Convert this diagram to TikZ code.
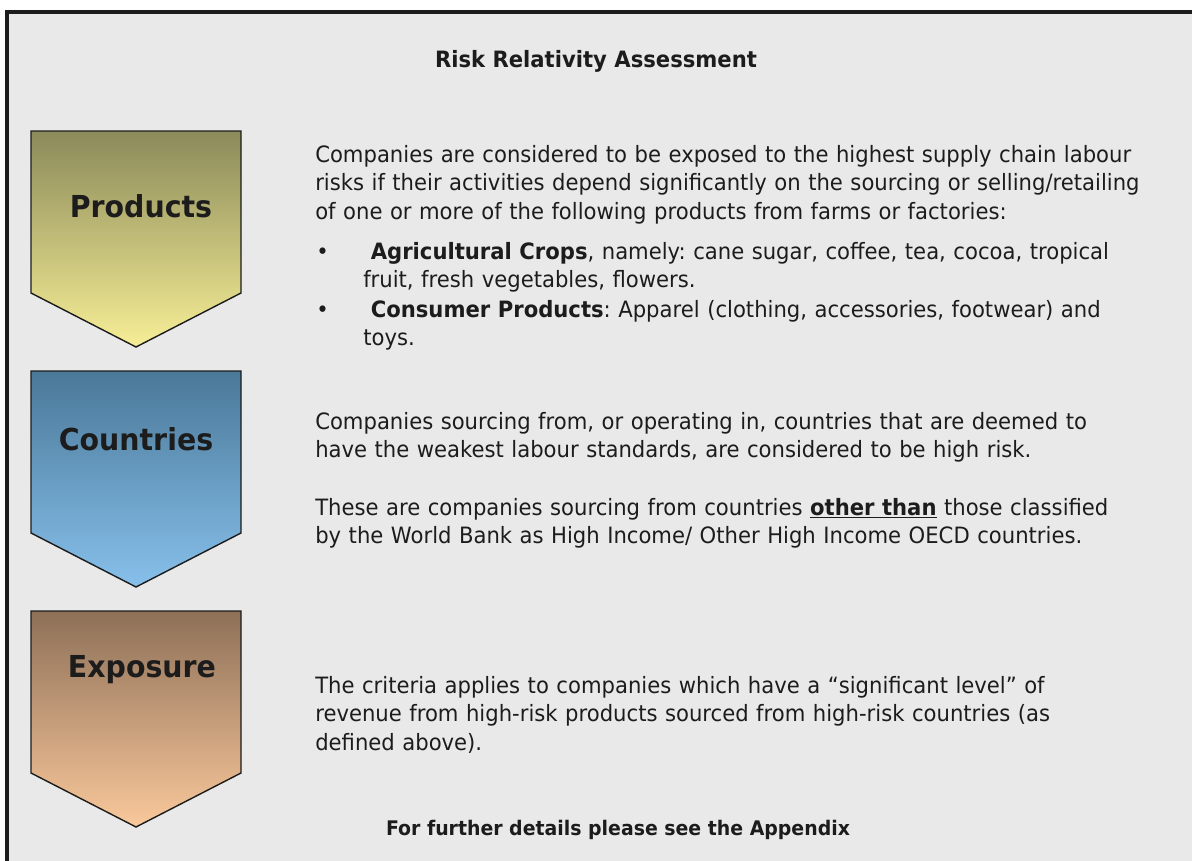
\documentclass[tikz,border=0pt]{standalone}
\usepackage{fontspec}
\setmainfont[FakeStretch=0.94]{DejaVu Sans}
\usepackage{tikz}
\frenchspacing
\definecolor{mybg}{RGB}{233,233,233}
\definecolor{mytext}{RGB}{28,28,28}
\definecolor{prodtop}{RGB}{139,138,90}
\definecolor{prodbot}{RGB}{246,238,150}
\definecolor{countop}{RGB}{74,120,152}
\definecolor{counbot}{RGB}{135,192,235}
\definecolor{expotop}{RGB}{142,112,88}
\definecolor{expobot}{RGB}{250,200,155}
\newcommand\mychevron[3]{%
  \draw[chevron,top color=#2,bottom color=#3]
    (31,#1) -- (241,#1) -- (241,#1+162) -- (136,#1+216) -- (31,#1+162) -- cycle;
}

\begin{document}
\begin{tikzpicture}[
x=0.025cm, y=-0.025cm,
chevron/.style={
  draw=mytext,
  line width=1pt},
chevlabel/.style={
  anchor=base,
  inner sep=0pt,
  text=mytext,
  font=\fontsize{21.5}{26}\selectfont\bfseries},
bodytext/.style={
  anchor=base west,
  inner sep=0pt,
  text=mytext,
  text width=22cm,
  align=left,
  font=\fontsize{16}{20.3}\selectfont},
headtext/.style={
  anchor=base,
  inner sep=0pt,
  text=mytext,
  font=\fontsize{16}{20}\selectfont\bfseries}
]
\useasboundingbox (0,0) rectangle (1192,861);
\fill[mybg] (7,12) rectangle (1205,870);
\draw[mytext, line width=2.2pt] (1205,12) -- (7,12) -- (7,870);

\mychevron{131}{prodtop}{prodbot}
\mychevron{371}{countop}{counbot}
\mychevron{611}{expotop}{expobot}
\node[chevlabel] (products) at (141,217) {Products};
\node[chevlabel] (countries) at (136,450) {Countries};
\node[chevlabel] (exposure) at (142,677) {Exposure};

\node[headtext] (title) at (596,67) {Risk Relativity Assessment};

\node[bodytext] (prodtext) at (315,162) {Companies are considered to be exposed to the highest supply chain labour\\
risks if their activities depend significantly on the sourcing or selling/retailing\\
of one or more of the following products from farms or factories:};
\node[bodytext] (bulleta) at (316,259) {•};
\node[bodytext] (itema) at (363,259) {\ \textbf{Agricultural Crops}, namely: cane sugar, coffee, tea, cocoa, tropical\\
fruit, fresh vegetables, flowers.};
\node[bodytext] (bulletb) at (316,317) {•};
\node[bodytext] (itemb) at (363,317) {\ \textbf{Consumer Products}: Apparel (clothing, accessories, footwear) and\\
toys.};

\node[bodytext] (countext) at (315,429) {Companies sourcing from, or operating in, countries that are deemed to\\
have the weakest labour standards, are considered to be high risk.};
\node[bodytext] (countextb) at (315,515) {These are companies sourcing from countries \textbf{\underline{other than}} those classified\\
by the World Bank as High Income/ Other High Income OECD countries.};

\node[bodytext] (expotext) at (315,693) {The criteria applies to companies which have a “significant level” of\\
revenue from high-risk products sourced from high-risk countries (as\\
defined above).};

\node[headtext, font=\fontsize{14.3}{18}\selectfont\bfseries] (footer) at (618,835) {For further details please see the Appendix};
\end{tikzpicture}
\end{document}
